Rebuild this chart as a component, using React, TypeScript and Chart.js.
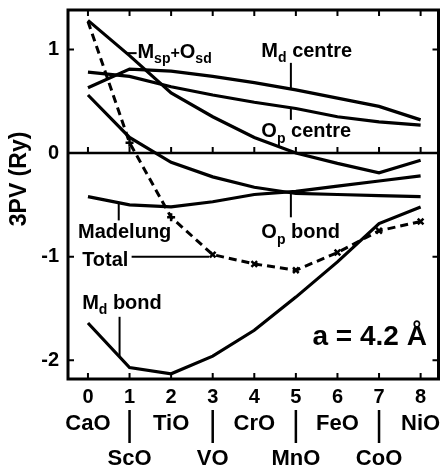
import { useEffect, useRef } from 'react';
import { Chart, registerables } from 'chart.js';

Chart.register(...registerables);

// Number of d electrons beyond CaO, one oxide per position
const positions = [0, 1, 2, 3, 4, 5, 6, 7, 8];
const oxides = ['CaO', 'ScO', 'TiO', 'VO', 'CrO', 'MnO', 'FeO', 'CoO', 'NiO'];
const yTickValues = [-2, -1, 0, 1];

// 3PV contributions (Ry) at a = 4.2 Å
const mspOsd = [1.28, 0.94, 0.58, 0.35, 0.15, 0.0, -0.1, -0.19, -0.07];
const mdCentre = [0.63, 0.81, 0.79, 0.74, 0.68, 0.61, 0.53, 0.45, 0.32];
const opCentre = [0.78, 0.74, 0.64, 0.56, 0.49, 0.43, 0.35, 0.3, 0.27];
const opBond = [0.56, 0.15, -0.09, -0.23, -0.33, -0.39, -0.4, -0.41, -0.42];
const madelung = [-0.42, -0.5, -0.52, -0.47, -0.4, -0.37, -0.32, -0.27, -0.22];
const total = [1.27, 0.1, -0.62, -0.98, -1.07, -1.13, -0.96, -0.75, -0.66];
const mdBond = [-1.64, -2.07, -2.13, -1.96, -1.71, -1.39, -1.05, -0.68, -0.52];

const FONT = '"Liberation Sans", Arial, sans-serif';
const INK = '#000';

type Part = { t: string; sub?: boolean; small?: boolean };

function valueAt(series: number[], xv: number): number {
  const i = Math.min(Math.max(Math.floor(xv), 0), series.length - 2);
  const f = xv - i;
  return series[i] + (series[i + 1] - series[i]) * f;
}

function drawParts(ctx: CanvasRenderingContext2D, x: number, y: number, parts: Part[], size: number) {
  let cx = x;
  ctx.textAlign = 'left';
  ctx.textBaseline = 'alphabetic';
  for (const p of parts) {
    const s = p.sub ? Math.round(size * 0.72) : p.small ? Math.round(size * 0.8) : size;
    ctx.font = `bold ${s}px ${FONT}`;
    const dy = p.sub ? size * 0.28 : 0;
    ctx.fillText(p.t, cx, y + dy);
    cx += ctx.measureText(p.t).width;
  }
}

const annotationPlugin = {
  id: 'figureAnnotations',
  afterDraw(chart: any) {
    const { ctx, chartArea: a, scales } = chart;
    const xs = scales.x;
    const ys = scales.y;
    const X = (v: number) => xs.getPixelForValue(v);
    const Y = (v: number) => ys.getPixelForValue(v);

    ctx.save();
    ctx.strokeStyle = INK;
    ctx.fillStyle = INK;
    ctx.lineCap = 'butt';

    // frame
    ctx.lineWidth = 3;
    ctx.strokeRect(a.left, a.top, a.right - a.left, a.bottom - a.top);

    // zero line
    ctx.lineWidth = 2.5;
    ctx.beginPath();
    ctx.moveTo(a.left, Y(0));
    ctx.lineTo(a.right, Y(0));
    ctx.stroke();

    // inward tick marks
    ctx.lineWidth = 2;
    ctx.beginPath();
    for (const p of positions) {
      ctx.moveTo(X(p), a.top);
      ctx.lineTo(X(p), a.top + 6);
      ctx.moveTo(X(p), a.bottom);
      ctx.lineTo(X(p), a.bottom - 6);
      ctx.moveTo(X(p), Y(0));
      ctx.lineTo(X(p), Y(0) - 6);
    }
    for (const v of yTickValues) {
      ctx.moveTo(a.left, Y(v));
      ctx.lineTo(a.left + 6, Y(v));
      ctx.moveTo(a.right, Y(v));
      ctx.lineTo(a.right - 6, Y(v));
    }
    ctx.stroke();

    // oxide names under the numbers, alternating rows
    ctx.font = `bold 22px ${FONT}`;
    ctx.textAlign = 'center';
    ctx.textBaseline = 'middle';
    oxides.forEach((name, i) => {
      const row = i % 2;
      ctx.fillText(name, X(positions[i]), a.bottom + (row === 0 ? 45 : 80));
    });
    ctx.lineWidth = 2.5;
    ctx.beginPath();
    oxides.forEach((_, i) => {
      if (i % 2 === 1) {
        ctx.moveTo(X(positions[i]), a.bottom + 31);
        ctx.lineTo(X(positions[i]), a.bottom + 64);
      }
    });
    ctx.stroke();

    // leader lines to the curves
    ctx.lineWidth = 2;
    const seg = (x1: number, y1: number, x2: number, y2: number) => {
      ctx.beginPath();
      ctx.moveTo(X(x1), Y(y1));
      ctx.lineTo(X(x2), Y(y2));
      ctx.stroke();
    };
    seg(0.93, valueAt(mspOsd, 0.93), 1.17, valueAt(mspOsd, 0.93));
    seg(4.88, 0.87, 4.88, valueAt(mdCentre, 4.88));
    seg(4.88, valueAt(opCentre, 4.88), 4.88, 0.32);
    seg(0.74, valueAt(madelung, 0.74), 0.74, -0.65);
    seg(4.88, valueAt(opBond, 4.88), 4.88, -0.62);
    seg(1.05, -1.0, 2.92, -1.0);
    seg(0.76, -1.58, 0.76, valueAt(mdBond, 0.76));

    // curve labels
    const size = 20;
    drawParts(ctx, X(1.19), Y(0.92), [{ t: 'M' }, { t: 'sp', sub: true }, { t: '+', small: true }, { t: 'O' }, { t: 'sd', sub: true }], size);
    drawParts(ctx, X(4.17), Y(0.93), [{ t: 'M' }, { t: 'd', sub: true }, { t: ' centre' }], size);
    drawParts(ctx, X(4.17), Y(0.155), [{ t: 'O' }, { t: 'p', sub: true }, { t: ' centre' }], size);
    drawParts(ctx, X(-0.24), Y(-0.82), [{ t: 'Madelung' }], size);
    drawParts(ctx, X(4.17), Y(-0.82), [{ t: 'O' }, { t: 'p', sub: true }, { t: ' bond' }], size);
    drawParts(ctx, X(-0.14), Y(-1.09), [{ t: 'Total' }], size);
    drawParts(ctx, X(-0.14), Y(-1.5), [{ t: 'M' }, { t: 'd', sub: true }, { t: ' bond' }], size);

    // lattice constant
    ctx.font = `bold 28px ${FONT}`;
    ctx.textAlign = 'left';
    ctx.textBaseline = 'alphabetic';
    ctx.fillText('a = 4.2 Å', X(5.4), Y(-1.855));

    // y axis title
    ctx.save();
    ctx.translate(20, Y(-0.25));
    ctx.rotate(-Math.PI / 2);
    ctx.font = `bold 23px ${FONT}`;
    ctx.textAlign = 'center';
    ctx.textBaseline = 'middle';
    ctx.fillText('3PV (Ry)', 0, 0);
    ctx.restore();

    ctx.restore();
  },
};

const line = (data: number[], extra: object = {}) => ({
  data: positions.map((p, i) => ({ x: p, y: data[i] })),
  borderColor: INK,
  borderWidth: 3.2,
  pointRadius: 0,
  tension: 0,
  fill: false,
  ...extra,
});

const noScalePadding = (s: any) => {
  s.paddingTop = 0;
  s.paddingBottom = 0;
  s.paddingLeft = 0;
  s.paddingRight = 0;
};

export default function App() {
  const canvasRef = useRef<HTMLCanvasElement>(null);

  useEffect(() => {
    const canvas = canvasRef.current;
    if (!canvas) return;
    const chart = new Chart(canvas, {
      type: 'line',
      data: {
        datasets: [
          line(mspOsd),
          line(mdCentre),
          line(opCentre),
          line(opBond),
          line(madelung),
          line(mdBond),
          line(total, {
            borderDash: [8, 5],
            borderWidth: 3,
            pointRadius: positions.map((p) => (p === 0 ? 0 : 4)),
            pointStyle: positions.map((p) => (p <= 2 ? 'cross' : 'crossRot')),
            pointBorderWidth: 2.5,
            pointBorderColor: INK,
            pointBackgroundColor: INK,
          }),
        ],
      },
      options: {
        animation: false,
        responsive: false,
        devicePixelRatio: 1,
        layout: { padding: { top: 10, right: 3, left: 0, bottom: 0 } },
        plugins: { legend: { display: false }, tooltip: { enabled: false } },
        scales: {
          x: {
            type: 'linear',
            min: -0.48,
            max: 8.43,
            afterBuildTicks: (s: any) => {
              s.ticks = positions.map((v) => ({ value: v }));
            },
            afterFit: (s: any) => {
              s.height = 93;
              noScalePadding(s);
            },
            grid: { display: false, drawTicks: false },
            border: { display: false },
            ticks: {
              color: INK,
              padding: 6,
              font: { family: FONT, size: 20, weight: 'bold' },
              callback: (v: any) => String(v),
            },
          },
          y: {
            type: 'linear',
            min: -2.18,
            max: 1.38,
            afterBuildTicks: (s: any) => {
              s.ticks = yTickValues.map((v) => ({ value: v }));
            },
            afterFit: (s: any) => {
              s.width = 68;
              noScalePadding(s);
            },
            grid: { display: false, drawTicks: false },
            border: { display: false },
            ticks: {
              color: INK,
              padding: 9,
              font: { family: FONT, size: 20, weight: 'bold' },
              callback: (v: any) => String(v),
            },
          },
        },
      },
      plugins: [annotationPlugin],
    });
    return () => chart.destroy();
  }, []);

  return (
    <div style={{ position: 'absolute', left: 0, top: 0, width: 445, height: 472, background: '#fff' }}>
      <canvas ref={canvasRef} width={445} height={472} />
    </div>
  );
}
